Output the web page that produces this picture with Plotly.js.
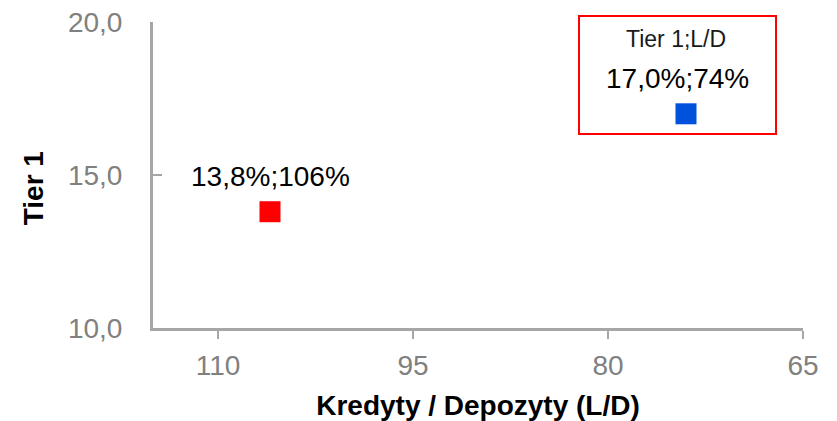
<!DOCTYPE html>
<html>
<head>
<meta charset="utf-8">
<script src="https://cdn.plot.ly/plotly-3.0.1.min.js"></script>
<style>html,body{margin:0;padding:0;background:#fff;}#chart{width:837px;height:421px;}</style>
</head>
<body>
<div id="chart"></div>
<script>
// Data
const seriesNames = ["Bank A", "Bank B"];
const ldRatio = [106, 74];      // Kredyty / Depozyty (L/D), %
const tier1 = [13.8, 17.0];     // Tier 1, %
const pointColors = ["#ff0000", "#0052dc"];
const labelShiftX = [0, -9];
const xTickVals = [110, 95, 80, 65];
const yTickVals = [10, 15, 20];
const xTitle = "Kredyty / Depozyty (L/D)";
const yTitle = "Tier 1";
const boxTitle = "Tier 1;L/D";

const FONT = "Liberation Sans, Arial, sans-serif";
const fmt = (v, d) => v.toFixed(d).replace('.', ',');
const labels = tier1.map((t, i) => fmt(t, 1) + "%;" + ldRatio[i] + "%");

const traces = ldRatio.map((x, i) => ({
  type: "scatter",
  mode: "markers",
  name: seriesNames[i],
  x: [x],
  y: [tier1[i]],
  text: [labels[i]],
  marker: {symbol: "square", size: 21, color: pointColors[i], line: {width: 0}},
  cliponaxis: false,
  hoverinfo: "text"
}));

const labelAnns = ldRatio.map((x, i) => ({
  text: labels[i], x: x, y: tier1[i], xref: "x", yref: "y",
  xanchor: "center", yanchor: "middle", showarrow: false,
  xshift: labelShiftX[i], yshift: 35,
  font: {family: FONT, size: 28, color: "#000"}
}));

const layout = {
  width: 837, height: 421,
  margin: {l: 153, r: 34, t: 22, b: 93, pad: 0},
  paper_bgcolor: "#fff", plot_bgcolor: "#fff",
  showlegend: false,
  separators: ", ",
  font: {family: FONT},
  xaxis: {
    range: [115, 65],
    tickvals: xTickVals,
    ticktext: xTickVals.map(String),
    showgrid: false, zeroline: false,
    showline: true, linecolor: "#a6a6a6", linewidth: 3,
    ticks: "outside", ticklen: 8, tickwidth: 2, tickcolor: "#a6a6a6",
    ticklabelstandoff: 2,
    tickfont: {family: FONT, size: 28, color: "#808080"},
    title: {text: xTitle, font: {family: FONT, size: 28, color: "#000", weight: "bold"}, standoff: 17}
  },
  yaxis: {
    range: [10, 20],
    tickvals: yTickVals,
    tickformat: ".1f",
    showgrid: false, zeroline: false,
    showline: true, linecolor: "#a6a6a6", linewidth: 3,
    ticks: "inside", ticklen: 9, tickwidth: 2, tickcolor: "#a6a6a6",
    ticklabelstandoff: 22,
    tickfont: {family: FONT, size: 28, color: "#808080"},
    title: {text: ""}
  },
  shapes: [{
    type: "rect", xref: "paper", yref: "paper",
    x0: 0.6554, x1: 0.9585, y0: 0.634, y1: 1.0196,
    line: {color: "#ff0000", width: 2}, fillcolor: "rgba(0,0,0,0)", layer: "below"
  }],
  annotations: [
    {text: boxTitle, xref: "paper", yref: "paper", x: 0.805, y: 0.944,
     xanchor: "center", yanchor: "middle", showarrow: false,
     font: {family: FONT, size: 23, color: "#1a1a1a"}},
    {text: "<b>" + yTitle + "</b>", xref: "paper", yref: "paper", x: -0.184, y: 0.458,
     xanchor: "center", yanchor: "middle", showarrow: false, textangle: -90,
     font: {family: FONT, size: 28, color: "#000"}}
  ].concat(labelAnns)
};

Plotly.newPlot("chart", traces, layout, {displayModeBar: false, staticPlot: true});
</script>
</body>
</html>
